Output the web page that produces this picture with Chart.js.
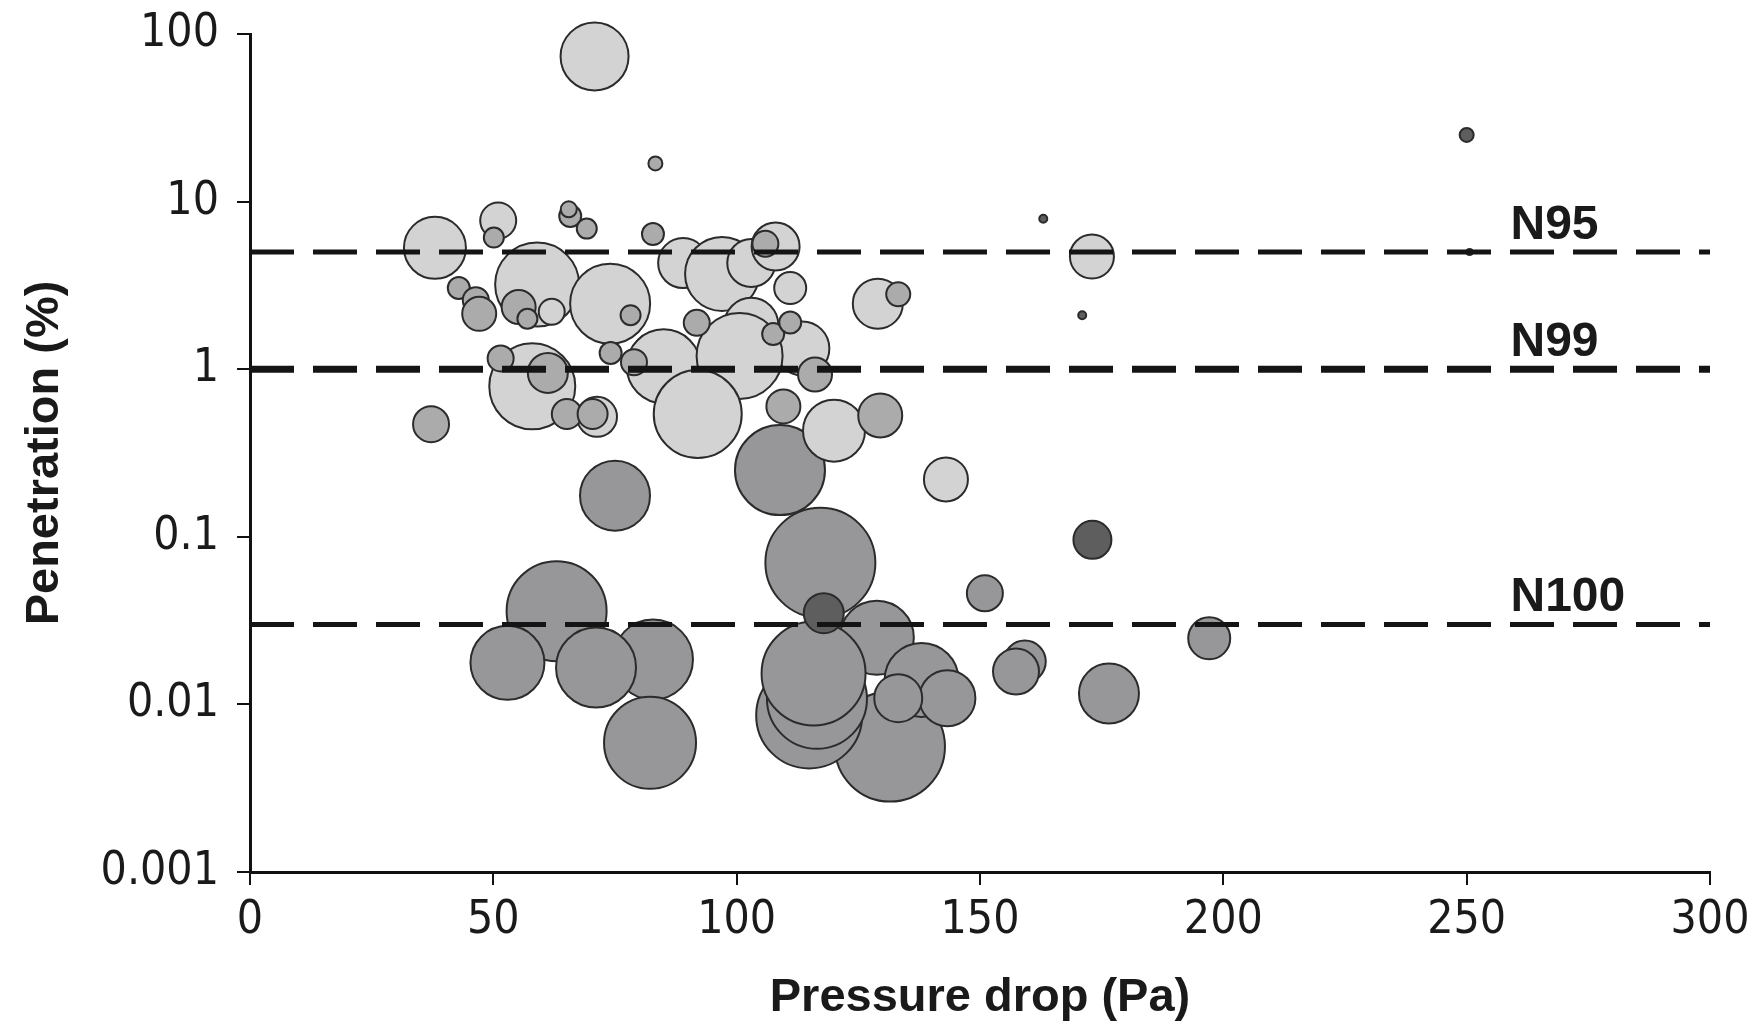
<!DOCTYPE html>
<html>
<head>
<meta charset="utf-8">
<script src="https://cdn.jsdelivr.net/npm/chart.js@4.4.1/dist/chart.umd.min.js"></script>
<style>
html,body{margin:0;padding:0;background:#fff;}
#wrap{width:1762px;height:1025px;}
</style>
</head>
<body>
<div id="wrap"><canvas id="c" width="1762" height="1025"></canvas></div>
<script>
// ---- data ----
const lightX = [70.8, 38, 51, 59, 74, 89, 97, 103, 108, 111, 103, 113.5, 85, 100.6, 92, 58, 62, 71.3, 120, 129, 143, 173];
const lightY = [73.5, 5.3, 7.7, 3.2, 2.46, 4.3, 3.7, 4.3, 5.4, 3.05, 1.84, 1.33, 1.04, 1.2, 0.54, 0.79, 2.2, 0.52, 0.43, 2.46, 0.22, 4.7];
const lightR = [34, 31, 18, 42, 40, 25, 37, 24, 24, 16, 27, 27, 37, 43, 44, 43, 13, 20, 31, 25, 22, 22];

const mediumX = [37.2, 42.9, 46.4, 47.1, 55.2, 57, 50.1, 65.8, 65.5, 69.2, 82.8, 51.5, 61.2, 65.1, 70.4, 74.1, 78.9, 78.2, 91.8, 105.9, 107.5, 111, 116.1, 109.6, 129.5, 133.2, 83.3];
const mediumY = [0.47, 3.05, 2.58, 2.14, 2.35, 2.0, 6.1, 8.2, 9.0, 6.9, 6.4, 1.16, 0.95, 0.54, 0.54, 1.25, 1.1, 2.1, 1.89, 5.6, 1.62, 1.9, 0.93, 0.6, 0.53, 2.8, 16.9];
const mediumR = [18, 11, 13, 17, 17, 10, 10, 11, 8, 10, 11, 13, 20, 15, 15, 11, 13, 10, 13, 13, 11, 11, 17, 17, 22, 12, 7];

const darkX = [131.5, 114.9, 116.5, 128.8, 115.8, 138, 143.3, 133.2, 63, 82.8, 52.9, 71.1, 82.2, 117.2, 108.9, 75, 151, 159.2, 157.4, 176.5, 197.1];
const darkY = [0.0056, 0.0086, 0.0108, 0.025, 0.0153, 0.014, 0.0109, 0.0109, 0.036, 0.0185, 0.0177, 0.0166, 0.0059, 0.07, 0.25, 0.176, 0.046, 0.018, 0.0157, 0.0116, 0.0248];
const darkR = [55, 53, 50, 37, 52, 37, 28, 24, 50, 40, 37, 40, 46, 55, 45, 35, 18, 21, 23, 30, 21];

const darkestX = [117.9, 173.1, 250, 163, 171, 250.6];
const darkestY = [0.035, 0.096, 25, 7.9, 2.1, 5.0];
const darkestR = [20, 19, 7, 4, 4, 3];

const thresholdNames = ['N95', 'N99', 'N100'];
const thresholdValues = [5, 1, 0.03];

const xTickValues = [0, 50, 100, 150, 200, 250, 300];
const yTickValues = [0.001, 0.01, 0.1, 1, 10, 100];
const yTickLabels = ['0.001', '0.01', '0.1', '1', '10', '100'];

const xTitle = 'Pressure drop (Pa)';
const yTitle = 'Penetration (%)';

// ---- build ----
function pts(xs, ys, rs) { return xs.map((x, i) => ({ x: x, y: ys[i], r: rs[i] })); }

const tickFont = { family: '"Liberation Sans Narrow", "Arial Narrow", "DejaVu Sans Condensed", "Liberation Sans", sans-serif', size: 46 };
const titleFont = { family: '"Liberation Sans", Arial, sans-serif', size: 47, weight: 'bold', lineHeight: 1.1 };

function bubbleSet(label, data, fill, order) {
  return { type: 'bubble', label, data, backgroundColor: fill, borderColor: '#2b2b2b', borderWidth: 2,
           hoverBorderWidth: 2, clip: false, order };
}
function lineSet(i, width) {
  return { type: 'line', label: thresholdNames[i],
           data: [{ x: xTickValues[0], y: thresholdValues[i] }, { x: xTickValues[xTickValues.length - 1], y: thresholdValues[i] }],
           borderColor: '#141414', borderWidth: width, borderDash: [44, 19], pointRadius: 0, fill: false, order: 0, clip: false };
}

const labelPlugin = {
  id: 'thresholdLabels',
  afterDatasetsDraw(chart) {
    const { ctx, scales: { x, y } } = chart;
    ctx.save();
    ctx.font = 'bold 48px "Liberation Sans", Arial, sans-serif';
    ctx.fillStyle = '#1a1a1a';
    ctx.textAlign = 'left';
    ctx.textBaseline = 'alphabetic';
    thresholdNames.forEach((n, i) => {
      ctx.fillText(n, x.getPixelForValue(259), y.getPixelForValue(thresholdValues[i]) - 13);
    });
    ctx.restore();
  }
};

new Chart(document.getElementById('c'), {
  data: {
    datasets: [
      lineSet(0, 5), lineSet(1, 7), lineSet(2, 5),
      bubbleSet('darkest', pts(darkestX, darkestY, darkestR), '#5e5e5e', 1),
      bubbleSet('medium', pts(mediumX, mediumY, mediumR), '#ababab', 2),
      bubbleSet('light', pts(lightX, lightY, lightR), '#d3d3d3', 3),
      bubbleSet('dark', pts(darkX, darkY, darkR), '#97979a', 4)
    ]
  },
  options: {
    responsive: false,
    animation: false,
    devicePixelRatio: 1,
    layout: { autoPadding: false, padding: { top: 34, right: 52, bottom: 0, left: 0 } },
    plugins: { legend: { display: false }, tooltip: { enabled: false } },
    scales: {
      x: {
        type: 'linear', min: 0, max: 300,
        afterBuildTicks(s) { s.ticks = xTickValues.map(v => ({ value: v })); },
        afterFit(s) { s.height = 153; s.paddingLeft = 0; s.paddingRight = 0; },
        ticks: { font: tickFont, color: '#1a1a1a', padding: 8, maxRotation: 0, autoSkip: false },
        grid: { drawOnChartArea: false, drawTicks: true, tickLength: 13, color: '#111', lineWidth: 2 },
        border: { display: true, color: '#111', width: 3 },
        title: { display: true, text: xTitle, font: titleFont, color: '#1a1a1a', padding: { top: 0, bottom: 1 } }
      },
      y: {
        type: 'logarithmic', min: 0.001, max: 100,
        afterBuildTicks(s) { s.ticks = yTickValues.map(v => ({ value: v })); },
        afterFit(s) { s.width = 250; s.paddingTop = 0; s.paddingBottom = 0; },
        ticks: { font: tickFont, color: '#1a1a1a', padding: 18, autoSkip: false,
                 callback: (v) => { const i = yTickValues.indexOf(v); return i >= 0 ? yTickLabels[i] : ''; } },
        grid: { drawOnChartArea: false, drawTicks: true, tickLength: 13, color: '#111', lineWidth: 2 },
        border: { display: true, color: '#111', width: 3 },
        title: { display: true, text: yTitle, font: titleFont, color: '#1a1a1a', padding: { top: 19, bottom: 0 } }
      }
    }
  },
  plugins: [labelPlugin]
});
</script>
</body>
</html>
